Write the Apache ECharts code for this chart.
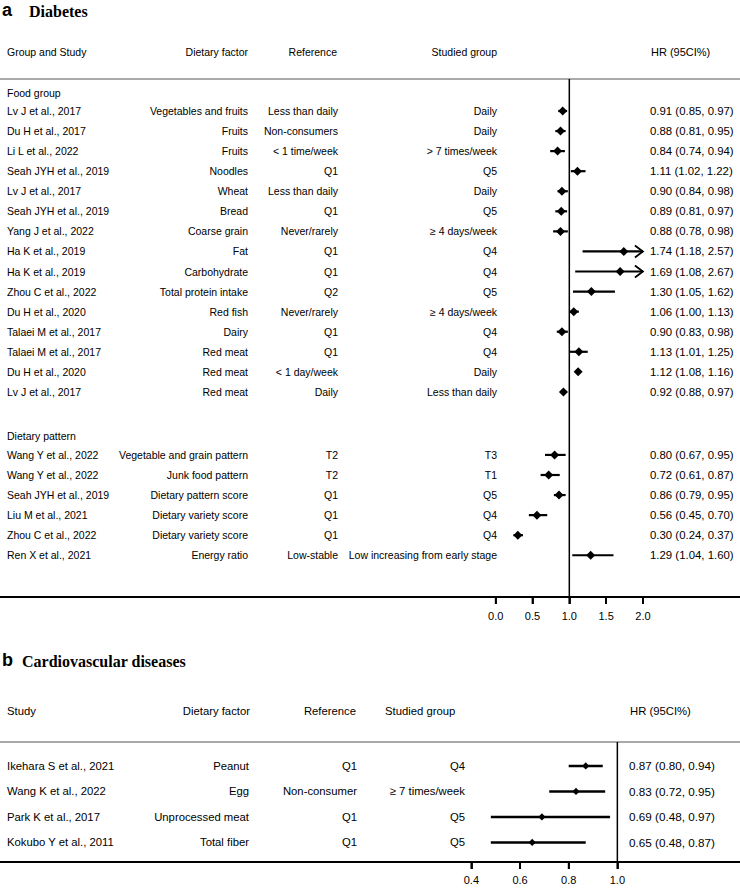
<!DOCTYPE html>
<html>
<head>
<meta charset="utf-8">
<script src="https://cdn.jsdelivr.net/npm/echarts@6/dist/echarts.min.js"></script>
<style>html,body{margin:0;padding:0;background:#fff}#c{width:740px;height:888px}</style>
</head>
<body>
<div id="c"></div>
<script>
// ---------- Panel a: Diabetes ----------
const foodStudies = ['Lv J et al., 2017','Du H et al., 2017','Li L et al., 2022','Seah JYH et al., 2019','Lv J et al., 2017','Seah JYH et al., 2019','Yang J et al., 2022','Ha K et al., 2019','Ha K et al., 2019','Zhou C et al., 2022','Du H et al., 2020','Talaei M et al., 2017','Talaei M et al., 2017','Du H et al., 2020','Lv J et al., 2017'];
const foodFactors = ['Vegetables and fruits','Fruits','Fruits','Noodles','Wheat','Bread','Coarse grain','Fat','Carbohydrate','Total protein intake','Red fish','Dairy','Red meat','Red meat','Red meat'];
const foodRefs = ['Less than daily','Non-consumers','< 1 time/week','Q1','Less than daily','Q1','Never/rarely','Q1','Q1','Q2','Never/rarely','Q1','Q1','< 1 day/week','Daily'];
const foodGroups = ['Daily','Daily','> 7 times/week','Q5','Daily','Q5','\u2265 4 days/week','Q4','Q4','Q5','\u2265 4 days/week','Q4','Q4','Daily','Less than daily'];
const foodHR   = [0.91,0.88,0.84,1.11,0.90,0.89,0.88,1.74,1.69,1.30,1.06,0.90,1.13,1.12,0.92];
const foodLow  = [0.85,0.81,0.74,1.02,0.84,0.81,0.78,1.18,1.08,1.05,1.00,0.83,1.01,1.08,0.88];
const foodHigh = [0.97,0.95,0.94,1.22,0.98,0.97,0.98,2.57,2.67,1.62,1.13,0.98,1.25,1.16,0.97];

const patternStudies = ['Wang Y et al., 2022','Wang Y et al., 2022','Seah JYH et al., 2019','Liu M et al., 2021','Zhou C et al., 2022','Ren X et al., 2021'];
const patternFactors = ['Vegetable and grain pattern','Junk food pattern','Dietary pattern score','Dietary variety score','Dietary variety score','Energy ratio'];
const patternRefs = ['T2','T2','Q1','Q1','Q1','Low-stable'];
const patternGroups = ['T3','T1','Q5','Q4','Q4','Low increasing from early stage'];
const patternHR   = [0.80,0.72,0.86,0.56,0.30,1.29];
const patternLow  = [0.67,0.61,0.79,0.45,0.24,1.04];
const patternHigh = [0.95,0.87,0.95,0.70,0.37,1.60];

const groupNamesA = ['Food group','Dietary pattern'];
const headersA = ['Group and Study','Dietary factor','Reference','Studied group','HR (95CI%)'];
const ticksA = [0, 0.5, 1, 1.5, 2];

// ---------- Panel b: Cardiovascular diseases ----------
const cvdStudies = ['Ikehara S et al., 2021','Wang K et al., 2022','Park K et al., 2017','Kokubo Y et al., 2011'];
const cvdFactors = ['Peanut','Egg','Unprocessed meat','Total fiber'];
const cvdRefs = ['Q1','Non-consumer','Q1','Q1'];
const cvdGroups = ['Q4','\u2265 7 times/week','Q5','Q5'];
const cvdHR   = [0.87,0.83,0.69,0.65];
const cvdLow  = [0.80,0.72,0.48,0.48];
const cvdHigh = [0.94,0.95,0.97,0.87];
const headersB = ['Study','Dietary factor','Reference','Studied group','HR (95CI%)'];
const ticksB = [0.4, 0.6, 0.8, 1.0];

// ---------- layout ----------
const FAM = '"Liberation Sans", Arial, sans-serif';
const W = 740;
const A = {top: 79, height: 518, xmin: -6.735, xmax: 3.319, ymin: -0.594, ymax: 25.22,
  studyX: 7, factorR: 248, refR: 338, grpR: 497, hrX: 650, clip: 2.0, lw: 2.2, d: 4.5,
  font: '10.5px ' + FAM, hrFont: '11.4px ' + FAM, labelMargin: 13};
const B = {top: 742, height: 120, xmin: -1.537, xmax: 1.504, ymin: 0.06, ymax: 4.766,
  studyX: 7, factorR: 249, refR: 357, grpR: 465, hrX: 629, clip: 10, lw: 2.6, d: 3.6,
  font: '11.3px ' + FAM, hrFont: '11.7px ' + FAM, labelMargin: 12};

const rowsA = [];
foodHR.forEach((v, i) => rowsA.push({study: foodStudies[i], factor: foodFactors[i], ref: foodRefs[i], grp: foodGroups[i], y: i + 1, hr: v, lo: foodLow[i], hi: foodHigh[i]}));
patternHR.forEach((v, j) => rowsA.push({study: patternStudies[j], factor: patternFactors[j], ref: patternRefs[j], grp: patternGroups[j], y: 18.14 + j, hr: v, lo: patternLow[j], hi: patternHigh[j]}));
const groupYA = [0.1, 17.19];

const rowsB = cvdHR.map((v, i) => ({study: cvdStudies[i], factor: cvdFactors[i], ref: cvdRefs[i], grp: cvdGroups[i], y: i + 1, hr: v, lo: cvdLow[i], hi: cvdHigh[i]}));

function txt(text, x, y, align, font) {
  return {type: 'text', style: {text: text, x: x, y: y, fill: '#000', font: font,
    textAlign: align, align: align, textVerticalAlign: 'middle', verticalAlign: 'middle'}};
}

function makeRender(rows, cfg) {
  return function (params, api) {
    const r = rows[params.dataIndex];
    const yv = api.value(0);
    const pHr = api.coord([api.value(1), yv]);
    const pLo = api.coord([api.value(2), yv]);
    const hiRaw = api.value(3);
    const clipped = hiRaw > cfg.clip;
    const pHi = api.coord([Math.min(hiRaw, cfg.clip), yv]);
    const y = pHr[1];
    const ch = [];
    ch.push(txt(r.study, cfg.studyX, y, 'left', cfg.font));
    ch.push(txt(r.factor, cfg.factorR, y, 'right', cfg.font));
    ch.push(txt(r.ref, cfg.refR, y, 'right', cfg.font));
    ch.push(txt(r.grp, cfg.grpR, y, 'right', cfg.font));
    ch.push(txt(r.hr.toFixed(2) + ' (' + r.lo.toFixed(2) + ', ' + r.hi.toFixed(2) + ')', cfg.hrX, y, 'left', cfg.hrFont));
    ch.push({type: 'line', shape: {x1: pLo[0], y1: y, x2: pHi[0], y2: y}, style: {stroke: '#000', lineWidth: cfg.lw}});
    if (clipped) {
      ch.push({type: 'polyline', shape: {points: [[pHi[0] - 8, y - 6], [pHi[0], y], [pHi[0] - 8, y + 6]]},
        style: {stroke: '#000', fill: null, lineWidth: 1.8}});
    }
    const d = cfg.d, x = pHr[0];
    ch.push({type: 'polygon', shape: {points: [[x - d, y], [x, y - d], [x + d, y], [x, y + d]]}, style: {fill: '#000'}});
    return {type: 'group', children: ch};
  };
}

const chart = echarts.init(document.getElementById('c'), null, {renderer: 'svg', width: 740, height: 888});

function xAxisDef(grid, cfg, ticks) {
  return {gridIndex: grid, type: 'value', position: 'bottom', min: cfg.xmin, max: cfg.xmax, splitLine: {show: false},
    axisLine: {show: true, onZero: false, lineStyle: {color: '#000', width: 2}},
    axisTick: {show: true, inside: false, customValues: ticks, length: 7, lineStyle: {color: '#000', width: 1.8}},
    axisLabel: {customValues: ticks, formatter: v => v.toFixed(1), color: '#000', fontSize: 11, margin: cfg.labelMargin, fontFamily: FAM}};
}

const baseGraphic = [
  {type: 'text', left: 2, top: 1, style: {text: 'a', font: 'bold 18px ' + FAM, fill: '#000'}},
  {type: 'text', left: 29, top: 3, style: {text: 'Diabetes', font: 'bold 16px "Liberation Serif", "Times New Roman", serif', fill: '#000'}},
  {type: 'group', children: [
    txt(headersA[0], 7, 52, 'left', A.font),
    txt(headersA[1], 248, 52, 'right', A.font),
    txt(headersA[2], 337, 52, 'right', A.font),
    txt(headersA[3], 497, 52, 'right', A.font),
    txt(headersA[4], 651, 52, 'left', '11px ' + FAM)
  ]},
  {type: 'line', shape: {x1: 0, y1: A.top, x2: W, y2: A.top}, style: {stroke: '#8c8c8c', lineWidth: 1.5}},
  {type: 'text', left: 2, top: 651, style: {text: 'b', font: 'bold 18px ' + FAM, fill: '#000'}},
  {type: 'text', left: 22, top: 653, style: {text: 'Cardiovascular diseases', font: 'bold 16px "Liberation Serif", "Times New Roman", serif', fill: '#000'}},
  {type: 'group', children: [
    txt(headersB[0], 7, 711, 'left', B.font),
    txt(headersB[1], 250, 711, 'right', B.font),
    txt(headersB[2], 356, 711, 'right', B.font),
    txt(headersB[3], 385, 711, 'left', B.font),
    txt(headersB[4], 630, 711, 'left', B.font)
  ]},
  {type: 'line', shape: {x1: 0, y1: B.top, x2: W, y2: B.top}, style: {stroke: '#8c8c8c', lineWidth: 1.5}}
];

const option = {
  animation: false,
  backgroundColor: '#fff',
  grid: [
    {left: 0, width: W, top: A.top, height: A.height},
    {left: 0, width: W, top: B.top, height: B.height}
  ],
  xAxis: [xAxisDef(0, A, ticksA), xAxisDef(1, B, ticksB)],
  yAxis: [
    {gridIndex: 0, type: 'value', inverse: true, min: A.ymin, max: A.ymax, show: false},
    {gridIndex: 1, type: 'value', inverse: true, min: B.ymin, max: B.ymax, show: false}
  ],
  graphic: baseGraphic,
  series: [
    {type: 'line', xAxisIndex: 0, yAxisIndex: 0, data: [[1, A.ymin], [1, A.ymax]], symbol: 'none', silent: true,
      lineStyle: {color: '#000', width: 1.5}},
    {type: 'custom', xAxisIndex: 0, yAxisIndex: 0, clip: false, silent: true,
      data: groupYA.map(v => [0, v]),
      renderItem: function (params, api) {
        const p = api.coord([0, api.value(1)]);
        return txt(groupNamesA[params.dataIndex], A.studyX, p[1], 'left', A.font);
      }},
    {type: 'custom', xAxisIndex: 0, yAxisIndex: 0, clip: false, silent: true,
      data: rowsA.map(r => [r.y, r.hr, r.lo, r.hi]),
      renderItem: makeRender(rowsA, A)},
    {type: 'line', xAxisIndex: 1, yAxisIndex: 1, data: [[1, B.ymin], [1, B.ymax]], symbol: 'none', silent: true,
      lineStyle: {color: '#000', width: 1.5}},
    {type: 'custom', xAxisIndex: 1, yAxisIndex: 1, clip: false, silent: true,
      data: rowsB.map(r => [r.y, r.hr, r.lo, r.hi]),
      renderItem: makeRender(rowsB, B)}
  ]
};
chart.setOption(option);

// axis tick marks, positioned through the library's own grid scales
function tickMarks(idx, cfg, ticks) {
  return ticks.map(v => {
    const p = chart.convertToPixel({gridIndex: idx}, [v, cfg.ymax]);
    const x = p && isFinite(p[0]) ? p[0] : 0;
    const y = p && isFinite(p[1]) ? p[1] : 0;
    return {type: 'rect', z: 100, shape: {x: x - 0.9, y: y, width: 1.8, height: 7}, style: {fill: '#000'}};
  });
}
chart.setOption({graphic: baseGraphic.concat(tickMarks(0, A, ticksA), tickMarks(1, B, ticksB))});
</script>
</body>
</html>
